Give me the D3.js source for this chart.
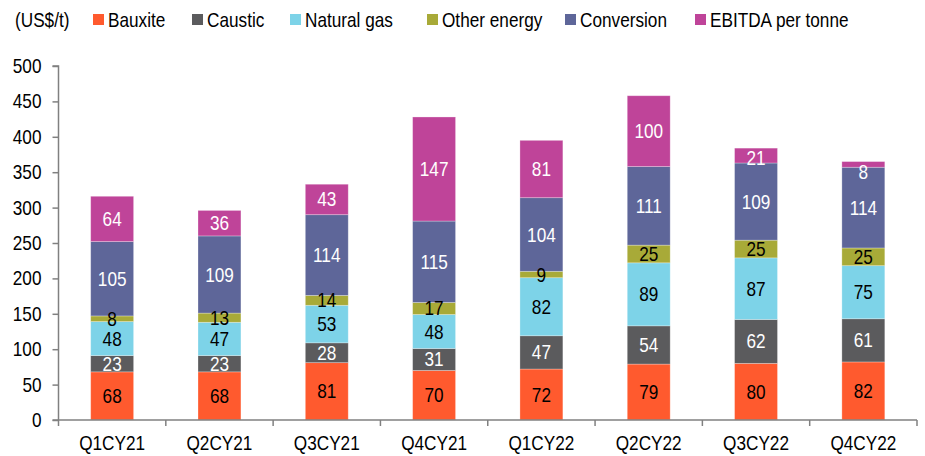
<!DOCTYPE html>
<html>
<head>
<meta charset="utf-8">
<script src="https://cdn.jsdelivr.net/npm/d3@7"></script>
<style>
  body { margin: 0; background: #fff; }
  text { font-family: "Liberation Sans", Arial, sans-serif; }
</style>
</head>
<body>
<svg id="chart" width="925" height="456"></svg>
<script>
// quarters and cost stack (US$/t)
const quarters = ['Q1CY21', 'Q2CY21', 'Q3CY21', 'Q4CY21', 'Q1CY22', 'Q2CY22', 'Q3CY22', 'Q4CY22']
const seriesNames = ['Bauxite', 'Caustic', 'Natural gas', 'Other energy', 'Conversion', 'EBITDA per tonne']
const bauxite = [68, 68, 81, 70, 72, 79, 80, 82]
const caustic = [23, 23, 28, 31, 47, 54, 62, 61]
const naturalGas = [48, 47, 53, 48, 82, 89, 87, 75]
const otherEnergy = [8, 13, 14, 17, 9, 25, 25, 25]
const conversion = [105, 109, 114, 115, 104, 111, 109, 114]
const ebitda = [64, 36, 43, 147, 81, 100, 21, 8]
const yTicks = [0, 50, 100, 150, 200, 250, 300, 350, 400, 450, 500]

const colors = ['#FF5A2E', '#5B5B5D', '#7DD3E8', '#A8AA38', '#5E6699', '#BF4499']
const labelColors = ['#000', '#fff', '#000', '#000', '#fff', '#fff']

const svg = d3.select('#chart')
const x0 = 58.5, x1 = 917, yTop = 66, yBot = 420
const narrow = 0.86   // no Arial Narrow here, squeeze the text instead
const fs = '20px'

// text placed at (px,py), squeezed horizontally
function label(g, px, py, str, anchor, fill) {
    return g.append('text')
        .attr('transform', 'translate(' + px + ',' + py + ') scale(' + narrow + ',1)')
        .attr('text-anchor', anchor || 'start')
        .attr('font-size', fs)
        .attr('fill', fill || '#000')
        .text(str)
}

// build rows for d3.stack
const cols = [bauxite, caustic, naturalGas, otherEnergy, conversion, ebitda]
const rows = quarters.map((q, i) => {
    let r = {q: q}
    seriesNames.forEach((s, k) => r[s] = cols[k][i])
    return r
})
const stacked = d3.stack().keys(seriesNames)(rows)

const x = d3.scaleBand().domain(quarters).range([x0, x1]).paddingInner(0.6).paddingOuter(0.3)
const y = d3.scaleLinear().domain([0, 500]).range([yBot, yTop])

// bars
const layers = svg.append('g').selectAll('g')
    .data(stacked)
    .enter()
    .append('g')
    .attr('fill', (d, k) => colors[k])

layers.selectAll('rect')
    .data(d => d)
    .enter()
    .append('rect')
    .attr('x', d => x(d.data.q))
    .attr('width', x.bandwidth())
    .attr('y', d => y(d[1]))
    .attr('height', d => y(d[0]) - y(d[1]))
    .attr('stroke', '#fff')
    .attr('stroke-opacity', 0.35)
    .attr('stroke-width', 0.8)

// value labels
const totals = rows.map(r => d3.sum(seriesNames, s => r[s]))
const vl = svg.append('g')
stacked.forEach((layer, k) => {
    layer.forEach((d, i) => {
        let c = y((d[0] + d[1]) / 2)
        let top = y(totals[i]) + 10
        label(vl, x(d.data.q) + x.bandwidth() / 2, Math.max(c, top) + 7, d[1] - d[0], 'middle', labelColors[k])
    })
})

// y axis
const yAxis = svg.append('g')
    .attr('transform', 'translate(' + x0 + ',0)')
    .call(d3.axisLeft(y).tickValues(yTicks).tickSize(6).tickFormat(''))
yAxis.selectAll('line, path').attr('stroke', '#808080').attr('stroke-width', 1.5)
yAxis.select('.domain').attr('d', 'M-6,' + yTop + 'H0V' + yBot)
yTicks.forEach(t => label(svg, x0 - 17, y(t) + 7, t, 'end'))

// x axis
const xAxis = svg.append('g')
    .attr('transform', 'translate(0,' + yBot + ')')
    .call(d3.axisBottom(x).tickSize(0).tickFormat(''))
xAxis.select('.domain').attr('d', 'M' + (x0 - 6) + ',0H' + x1).attr('stroke', '#808080').attr('stroke-width', 1.5)
const step = (x1 - x0) / quarters.length
xAxis.append('g').selectAll('line')
    .data(d3.range(quarters.length + 1))
    .enter()
    .append('line')
    .attr('x1', i => x0 + i * step)
    .attr('x2', i => x0 + i * step)
    .attr('y1', 0)
    .attr('y2', 6)
    .attr('stroke', '#808080')
    .attr('stroke-width', 1.5)
quarters.forEach(q => label(svg, x(q) + x.bandwidth() / 2, 450, q, 'middle'))

// legend
label(svg, 15, 27, '(US$/t)')
const legendX = [93, 192, 290, 427, 565, 695]
seriesNames.forEach((s, i) => {
    svg.append('rect')
        .attr('x', legendX[i]).attr('y', 14)
        .attr('width', 11).attr('height', 11)
        .attr('fill', colors[i])
    label(svg, legendX[i] + 15, 27, s)
})
</script>
</body>
</html>
